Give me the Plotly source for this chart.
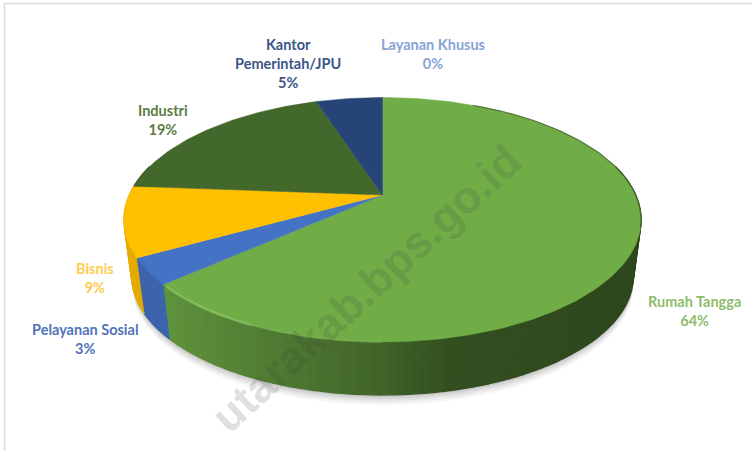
import numpy as np
import plotly.graph_objects as go

categories = ["Rumah Tangga", "Pelayanan Sosial", "Bisnis", "Industri", "Kantor Pemerintah/JPU", "Layanan Khusus"]
values = [63.5, 3.45, 9.25, 18.75, 5.05, 0.0]
top_colors = ["#70AD47", "#4472C4", "#FFC000", "#43682B", "#264478", "#5B9BD5"]
label_colors = ["#8DBD6C", "#4F74B8", "#FFCB4D", "#5C7D45", "#3B5587", "#86A3D6"]
label_lines = [["Rumah Tangga"], ["Pelayanan Sosial"], ["Bisnis"], ["Industri"], ["Kantor", "Pemerintah/JPU"], ["Layanan Khusus"]]
label_xy = [(694, 311), (85, 339), (95, 278), (163, 120), (288, 63), (433, 54)]

CX, Y0, A, B, K = 382.5, 195.0, 253.2, 117.2, 0.2024
BOT_S, BOT_Y0 = 0.97, 252.4
FONT = "Lato"


def project(theta, scale=1.0, y0=Y0):
    u, v = np.sin(theta), np.cos(theta)
    w = 1 + K * v
    return CX + scale * A * u / w, y0 - scale * B * v / w


def shade(hexcol, f):
    r, g, b = (int(hexcol[i:i + 2], 16) for i in (1, 3, 5))
    return f"rgb({int(r*f)},{int(g*f)},{int(b*f)})"


edges = np.radians(np.concatenate([[0], np.cumsum(values)]) * 3.6)
fig = go.Figure()


def poly(x, y, color, lw=0.6):
    fig.add_trace(go.Scatter(x=x, y=y, mode="lines", fill="toself", fillcolor=color,
                             line=dict(color=color, width=lw), hoverinfo="skip", showlegend=False))


# soft shadow beneath the base
t = np.linspace(np.radians(75), np.radians(250), 120)
for i, (dy, alpha) in enumerate([(10, .05), (8, .06), (6, .07), (4, .09), (2, .11)]):
    x, y = project(t, BOT_S, BOT_Y0 + dy)
    poly(np.r_[x, x[::-1]], np.r_[y, y[::-1] - 30], f"rgba(90,90,90,{alpha})", 0)

# side wall, drawn strip by strip
sx = [125, 170, 300, 380, 450, 640]
sf = [.90, .84, .68, .58, .46, .41]
for i in range(len(values)):
    a0, a1 = edges[i], edges[i + 1]
    if a1 <= a0:
        continue
    n = max(2, int(np.degrees(a1 - a0) / 1.5))
    th = np.linspace(a0, a1, n + 1)
    for j in range(n):
        if np.cos(th[j]) > 0.25 and np.cos(th[j + 1]) > 0.25:
            continue
        seg = np.linspace(th[j], th[j + 1], 3)
        xt, yt = project(seg)
        xb, yb = project(seg, BOT_S, BOT_Y0)
        f = np.interp(xt.mean(), sx, sf)
        if i != 0:
            f = max(f, .88)
        poly(np.r_[xt, xb[::-1]], np.r_[yt, yb[::-1]], shade(top_colors[i], f), 1.4)

# top faces last, they cover the back of the wall
for i in range(len(values)):
    if edges[i + 1] <= edges[i]:
        continue
    th = np.linspace(edges[i], edges[i + 1], max(3, int(np.degrees(edges[i + 1] - edges[i]))))
    x, y = project(th)
    poly(np.r_[CX, x, CX], np.r_[Y0, y, Y0], top_colors[i], 0.5)

# bevel highlight on the front-left rim and dark rim on the back right
for a0, a1, col, w in [(edges[1] - .02, np.radians(205), "rgba(150,205,115,.55)", 2.5),
                       (np.radians(205), np.radians(180), "rgba(150,205,115,.25)", 2),
                       (np.radians(25), np.radians(105), "rgba(50,75,30,.65)", 1.2)]:
    x, y = project(np.linspace(a0, a1, 50))
    fig.add_trace(go.Scatter(x=x, y=y, mode="lines", line=dict(color=col, width=w),
                             hoverinfo="skip", showlegend=False))

ann = []
for lines, (lx, ly), col, v in zip(label_lines, label_xy, label_colors, values):
    txt = "<br>".join(lines + [f"{round(v)}%"])
    ann.append(dict(x=lx, y=ly, xref="x", yref="y", text=txt, showarrow=False, align="center",
                    font=dict(family=FONT, size=14.5, color=col, weight="bold"), xanchor="center", yanchor="middle"))
ann.append(dict(x=366, y=288, xref="x", yref="y", text="utarakab.bps.go.id", showarrow=False, textangle=-42.5,
                font=dict(family="Liberation Sans", size=45, color="rgba(60,60,60,.18)", weight="bold")))

fig.update_layout(
    width=752, height=451, margin=dict(l=0, r=0, t=0, b=0),
    paper_bgcolor="white", plot_bgcolor="white", showlegend=False,
    xaxis=dict(range=[0, 752], visible=False, fixedrange=True),
    yaxis=dict(range=[451, 0], visible=False, fixedrange=True),
    annotations=ann,
    shapes=[dict(type="line", xref="x", yref="y", x0=4, x1=752, y0=3.5, y1=3.5, line=dict(color="#dcdcdc", width=1.5)),
            dict(type="line", xref="x", yref="y", x0=4.5, x1=4.5, y0=3, y1=451, line=dict(color="#dcdcdc", width=1.5))],
)
fig.write_html("out.html", config=dict(displayModeBar=False),
               post_script="document.body.style.margin='0';document.body.style.overflow='hidden';")
